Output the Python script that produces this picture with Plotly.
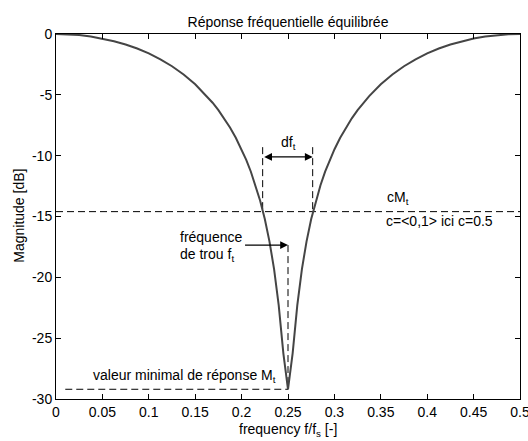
import plotly.graph_objects as go

# frequency response, f/fs and magnitude in dB
freq_left = [0, 0.0125, 0.025, 0.0375, 0.05, 0.0625, 0.075, 0.0875, 0.1, 0.1125,
             0.125, 0.1375, 0.15, 0.1625, 0.16875, 0.175, 0.18125, 0.1875, 0.19375,
             0.2, 0.205, 0.21, 0.215, 0.22, 0.225, 0.23, 0.235, 0.24, 0.245, 0.25]
mag_left = [0, -0.02, -0.09, -0.21, -0.37, -0.59, -0.86, -1.19, -1.59, -2.08,
            -2.65, -3.33, -4.13, -5.10, -5.65, -6.26, -6.93, -7.69, -8.53,
            -9.49, -10.35, -11.32, -12.43, -13.71, -15.21, -17.04, -19.32, -22.31, -26.25, -29.2]
freq_right = [0.255, 0.26, 0.265, 0.27, 0.275, 0.28, 0.285, 0.29, 0.295, 0.3,
              0.30625, 0.3125, 0.31875, 0.325, 0.33125, 0.3375, 0.35, 0.3625, 0.375,
              0.3875, 0.4, 0.4125, 0.425, 0.4375, 0.45, 0.4625, 0.475, 0.4875, 0.5]
mag_right = [-26.25, -22.31, -19.32, -17.04, -15.21, -13.71, -12.43, -11.32, -10.35, -9.49,
             -8.53, -7.69, -6.93, -6.26, -5.65, -5.10, -4.13, -3.33, -2.65,
             -2.08, -1.59, -1.19, -0.86, -0.59, -0.37, -0.21, -0.09, -0.02, 0]

freq = freq_left + freq_right
mag = mag_left + mag_right

f_t = 0.25          # notch frequency
M_t = -29.2         # minimal response value
c = 0.5
cM_t = c * M_t
df_lo, df_hi = 0.2227, 0.2766   # crossings at cM_t
df_top = -9.3
df_arrow_y = -10.1
ft_arrow_y = -17.35
ft_arrow_tail = 0.2021
mt_line_start = 0.01

x_ticks = [0, 0.05, 0.1, 0.15, 0.2, 0.25, 0.3, 0.35, 0.4, 0.45, 0.5]
x_ticktext = ["0", "0.05", "0.1", "0.15", "0.2", "0.25", "0.3", "0.35", "0.4", "0.45", "0.5"]
y_ticks = [-30, -25, -20, -15, -10, -5, 0]
y_ticktext = ["-30", "-25", "-20", "-15", "-10", "-5", "0"]

FONT = "Liberation Sans, Arial, sans-serif"
FS = 14
DASH = "7px,4px"

fig = go.Figure()

def dashed(xs, ys):
    fig.add_trace(go.Scatter(x=xs, y=ys, mode="lines",
                             line=dict(color="black", width=1, dash=DASH),
                             hoverinfo="skip", showlegend=False))

dashed([0, 0.5], [cM_t, cM_t])
dashed([mt_line_start, f_t], [M_t, M_t])
dashed([f_t, f_t], [ft_arrow_y, M_t])
dashed([df_lo, df_lo], [df_top, cM_t])
dashed([df_hi, df_hi], [df_top, cM_t])

fig.add_trace(go.Scatter(x=freq, y=mag, mode="lines",
                         line=dict(color="#454545", width=2),
                         showlegend=False))

ann = []
# double arrow df_t
ann.append(dict(x=df_hi, y=df_arrow_y, ax=df_lo, ay=df_arrow_y, xref="x", yref="y",
                axref="x", ayref="y", text="", showarrow=True, arrowhead=2,
                arrowside="end+start", arrowsize=1.2, arrowwidth=1.3, arrowcolor="black",
                standoff=0, startstandoff=0))
ann.append(dict(x=f_t, y=ft_arrow_y, ax=ft_arrow_tail, ay=ft_arrow_y, xref="x", yref="y",
                axref="x", ayref="y", text="", showarrow=True, arrowhead=2,
                arrowsize=1.2, arrowwidth=1.3, arrowcolor="black", standoff=0))
ann.append(dict(x=0.2505, y=-8.95, xref="x", yref="y", text="df<sub>t</sub>",
                showarrow=False, xanchor="center", yanchor="middle"))
ann.append(dict(x=0.1315, y=-16.7, xref="x", yref="y", text="fréquence",
                showarrow=False, xanchor="left", yanchor="middle"))
ann.append(dict(x=0.1315, y=-18.15, xref="x", yref="y", text="de trou f<sub>t</sub>",
                showarrow=False, xanchor="left", yanchor="middle"))
ann.append(dict(x=0.0375, y=-28.15, xref="x", yref="y",
                text="valeur minimal de réponse M<sub>t</sub>",
                showarrow=False, xanchor="left", yanchor="middle"))
ann.append(dict(x=0.3545, y=-13.5, xref="x", yref="y", text="cM<sub>t</sub>",
                showarrow=False, xanchor="left", yanchor="middle"))
ann.append(dict(x=0.353, y=-15.4, xref="x", yref="y", text="c=<0,1> ici c=0.5",
                showarrow=False, xanchor="left", yanchor="middle"))
# axis titles
ann.append(dict(x=0.5, y=-0.085, xref="paper", yref="paper",
                text="frequency f/f<sub>s</sub> [-]", showarrow=False,
                xanchor="center", yanchor="middle"))
ann.append(dict(x=-0.079, y=0.503, xref="paper", yref="paper",
                text="Magnitude [dB]", showarrow=False, textangle=-90,
                xanchor="center", yanchor="middle"))

for a in ann:
    a.setdefault("font", dict(family=FONT, size=FS, color="black"))

fig.update_layout(
    width=528, height=441,
    margin=dict(l=56, r=8, t=34, b=42),
    paper_bgcolor="white", plot_bgcolor="white",
    font=dict(family=FONT, size=FS, color="black"),
    title=dict(text="Réponse fréquentielle équilibrée", x=0.5455, xanchor="center",
               y=0.95, yanchor="middle", font=dict(family=FONT, size=FS, color="black")),
    annotations=ann,
    xaxis=dict(range=[0, 0.5], tickvals=x_ticks, ticktext=x_ticktext,
               showgrid=False, zeroline=False, showline=True, linecolor="black",
               linewidth=1, mirror="ticks", ticks="inside", ticklen=5,
               tickcolor="black", tickfont=dict(size=FS), automargin=False,
               ticklabeloverflow="allow"),
    yaxis=dict(range=[-30, 0], tickvals=y_ticks, ticktext=y_ticktext,
               showgrid=False, zeroline=False, showline=True, linecolor="black",
               linewidth=1, mirror="ticks", ticks="inside", ticklen=5,
               tickcolor="black", tickfont=dict(size=FS), automargin=False,
               ticklabeloverflow="allow"),
)

fig.write_html("out.html", config={"displayModeBar": False},
               post_script="document.body.style.margin='0';document.body.style.overflow='hidden';")
